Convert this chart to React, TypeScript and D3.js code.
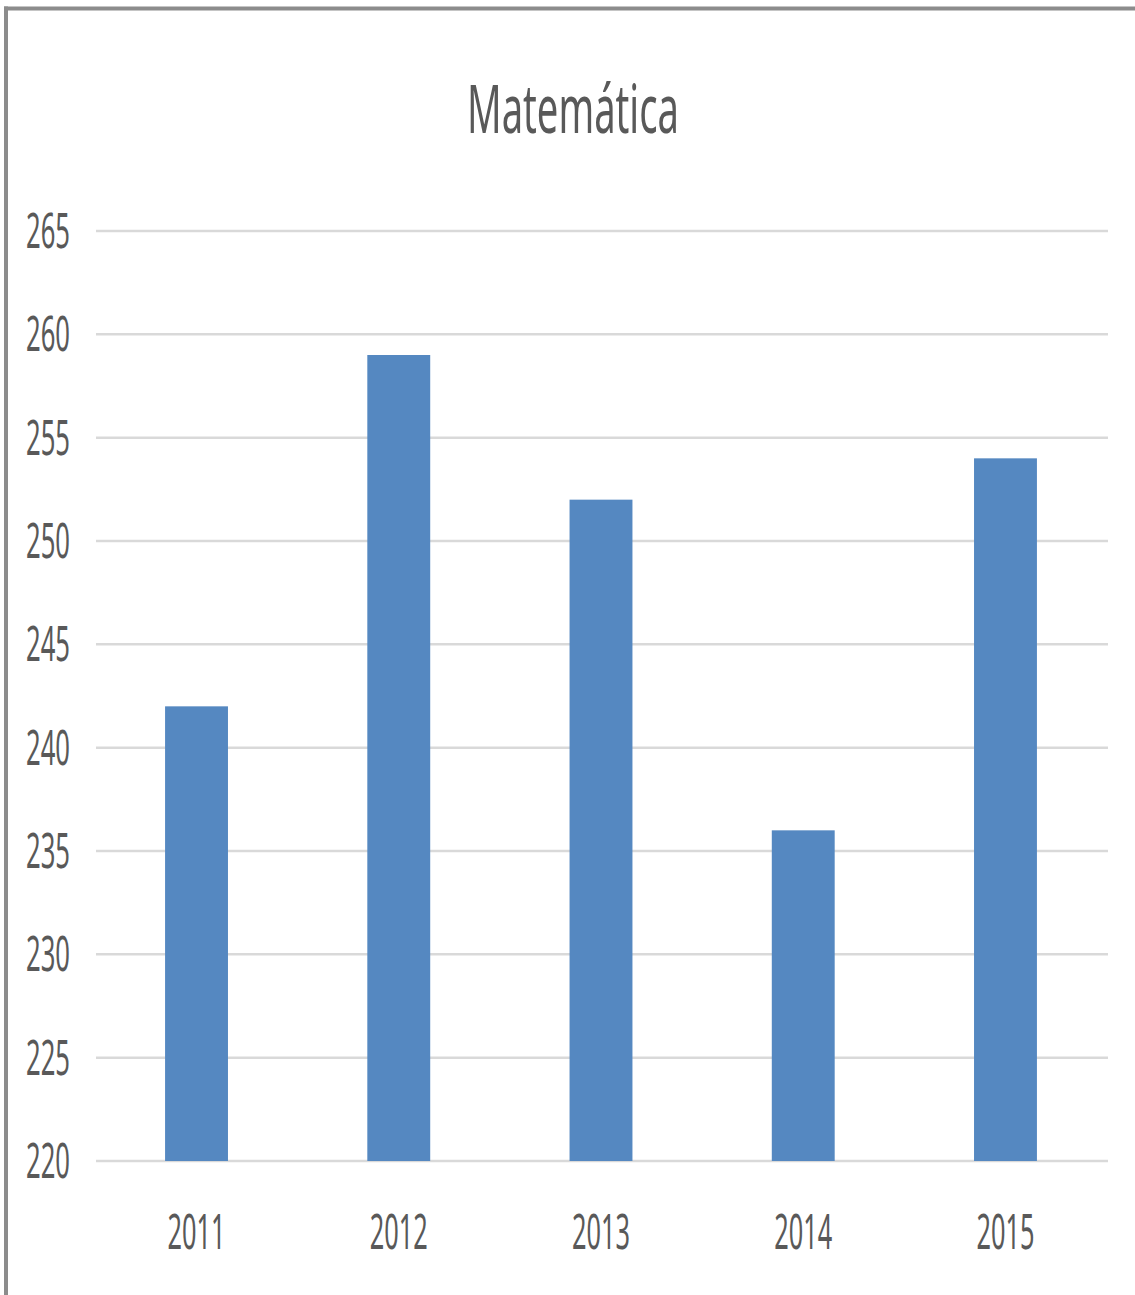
import React from "react";
import * as d3 from "d3";

const title = "Matemática";
const years = ["2011", "2012", "2013", "2014", "2015"];
const values = [242, 259, 252, 236, 254];
const yTicks = [220, 225, 230, 235, 240, 245, 250, 255, 260, 265];

export default function App() {
  const W = 1135;
  const H = 1295;
  const x = d3.scaleBand<string>().domain(years).range([95.4, 1106.6]).paddingInner(0.689).paddingOuter(0.3445);
  const y = d3.scaleLinear().domain([220, 265]).range([1161, 231]);
  const textColor = "#595959";
  const font = "'Noto Sans', 'Liberation Sans', sans-serif";
  return (
    <svg width={W} height={H} style={{ position: "absolute", left: 0, top: 0, display: "block" }}>
      <rect x={0} y={0} width={W} height={H} fill="#ffffff" />
      {/* frame */}
      <line x1={4} x2={W} y1={8.5} y2={8.5} stroke="#8c8c8c" strokeWidth={4} />
      <line x1={6} x2={6} y1={6.5} y2={H} stroke="#8c8c8c" strokeWidth={4} />
      {/* title */}
      <text x={573} y={133} textAnchor="middle" fontFamily={font} fontSize={67} fill={textColor}
        textLength={212} lengthAdjust="spacingAndGlyphs">{title}</text>
      {/* gridlines */}
      {yTicks.map((t) => (
        <line key={"g" + t} x1={96} x2={1108} y1={y(t)} y2={y(t)} stroke="#d9d9d9" strokeWidth={2.5} />
      ))}
      {/* bars */}
      {years.map((yr, i) => (
        <rect key={yr} x={x(yr)} y={y(values[i])} width={x.bandwidth()} height={y(220) - y(values[i])} fill="#5588c1" />
      ))}
      {/* y labels */}
      {yTicks.map((t) => (
        <text key={"t" + t} x={70} y={y(t) + 17} textAnchor="end" fontFamily={font} fontSize={50} fill={textColor}
          textLength={44} lengthAdjust="spacingAndGlyphs">{t}</text>
      ))}
      {/* x labels */}
      {years.map((yr) => (
        <text key={"x" + yr} x={(x(yr) as number) + x.bandwidth() / 2} y={1249} textAnchor="middle" fontFamily={font}
          fontSize={50} fill={textColor} textLength={58} lengthAdjust="spacingAndGlyphs">{yr}</text>
      ))}
    </svg>
  );
}
